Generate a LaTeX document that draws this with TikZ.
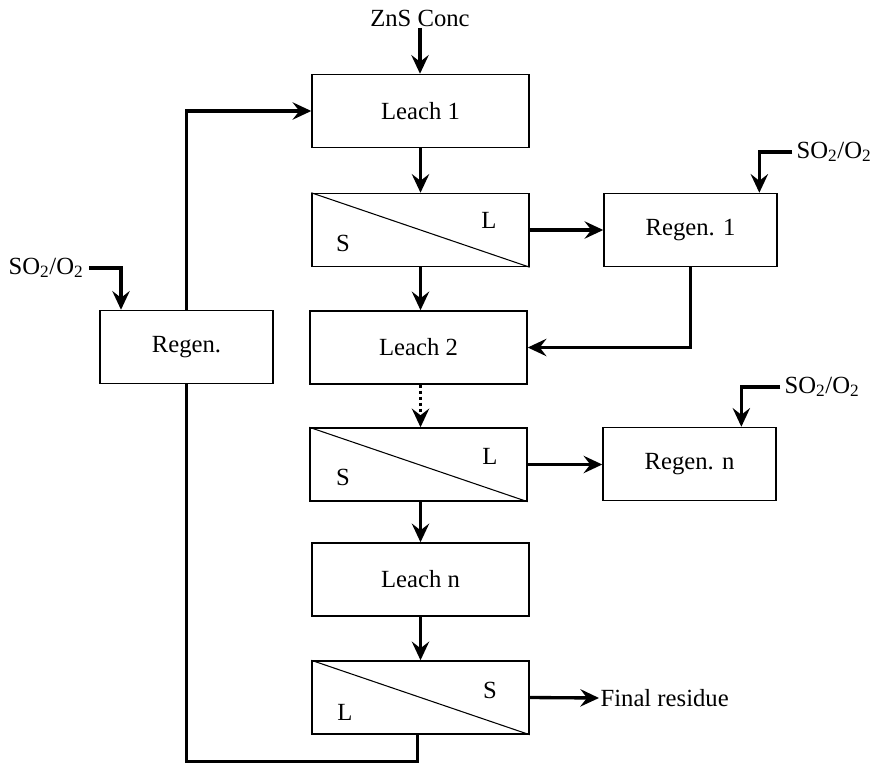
\documentclass[tikz,border=0pt]{standalone}
\usepackage{fontspec}
\setmainfont{Liberation Serif}
\usetikzlibrary{arrows.meta}
\begin{document}
\begin{tikzpicture}[x=0.75pt,y=-0.75pt,
  box/.style={draw,line width=1.1pt,minimum width=162.75pt,minimum height=54.75pt,inner sep=0pt,font=\fontsize{18.5}{21}\selectfont},
  rbox/.style={draw,line width=1.1pt,minimum width=129.75pt,minimum height=54.75pt,inner sep=0pt,font=\fontsize{18.5}{21}\selectfont},
  lab/.style={font=\fontsize{18.5}{21}\selectfont,inner sep=1pt},
  flow/.style={line width=2.5pt,-{Stealth[length=14pt,width=13pt,inset=5pt]}},
  pipe/.style={line width=2.5pt}]
\useasboundingbox (0,0) rectangle (873,767);
% main column
\node[box] (l1) at (420.5,111) {Leach 1};
\node[box] (s1) at (420.5,230) {};
\node[box] (l2) at (418.5,347.5) {Leach 2};
\node[box] (s2) at (418.5,464.5) {};
\node[box] (ln) at (420.5,579.5) {Leach n};
\node[box] (s3) at (420.5,697.5) {};
\draw[line width=0.8pt] (s1.north west) -- (s1.south east);
\draw[line width=0.8pt] (s2.north west) -- (s2.south east);
\draw[line width=0.8pt] (s3.north west) -- (s3.south east);
\node[lab] (s1S) at (343,243) {S};
\node[lab] (s1L) at (489,220) {L};
\node[lab] (s2S) at (343,477) {S};
\node[lab] (s2L) at (490,456) {L};
\node[lab] (s3L) at (345,712) {L};
\node[lab] (s3S) at (490,690) {S};
% regens
\node[rbox] (r1) at (690.5,230) {Regen. 1};
\node[rbox] (rn) at (689.5,464) {Regen. n};
\node[rbox] (r0) at (186.5,347) {Regen.};
% texts
\node[lab] (zns) at (420,18) {ZnS Conc};
\node[lab,anchor=west] (so1) at (795,152) {SO\textsubscript{2}/O\textsubscript{2}};
\node[lab,anchor=west] (son) at (783,387) {SO\textsubscript{2}/O\textsubscript{2}};
\node[lab,anchor=east] (so0) at (85,268) {SO\textsubscript{2}/O\textsubscript{2}};
\node[lab,anchor=west] (fr) at (599,698) {Final residue};
% flows
\draw[flow] (zns.south) -- (zns.south |- l1.north);
\draw[flow] (l1.south) -- (l1.south |- s1.north);
\draw[flow] (s1.south) -- (s1.south |- l2.north);
\draw[flow,dotted] ([xshift=1.5pt]l2.south) -- ([xshift=1.5pt]l2.south |- s2.north);
\draw[flow] ([xshift=1.5pt]s2.south) -- ([xshift=1.5pt]s2.south |- ln.north);
\draw[flow] (ln.south) -- (ln.south |- s3.north);
\draw[flow] (s1.east) -- (s1.east -| r1.west);
\draw[flow] (s2.east) -- (s2.east -| rn.west);
\draw[flow] (s3.east) -- (fr.west);
\draw[flow] (r1.south) -- (r1.south |- l2.east) -- (l2.east);
\draw[flow] ([xshift=-2pt]so1.west) -- ++(-33,0) coordinate (c1) -- (c1 |- r1.north);
\draw[flow] ([xshift=-2pt]son.west) -- ++(-39,0) coordinate (c2) -- (c2 |- rn.north);
\draw[flow] ([xshift=3pt]so0.east) -- ++(32,0) coordinate (c3) -- (c3 |- r0.north);
\draw[pipe] ([xshift=-2.5pt]s3.south) -- ++(0,27) coordinate (c4) -- (c4 -| r0.south) -- (r0.south);
\draw[flow] (r0.north) -- (r0.north |- l1.west) -- (l1.west);
\end{tikzpicture}
\end{document}
